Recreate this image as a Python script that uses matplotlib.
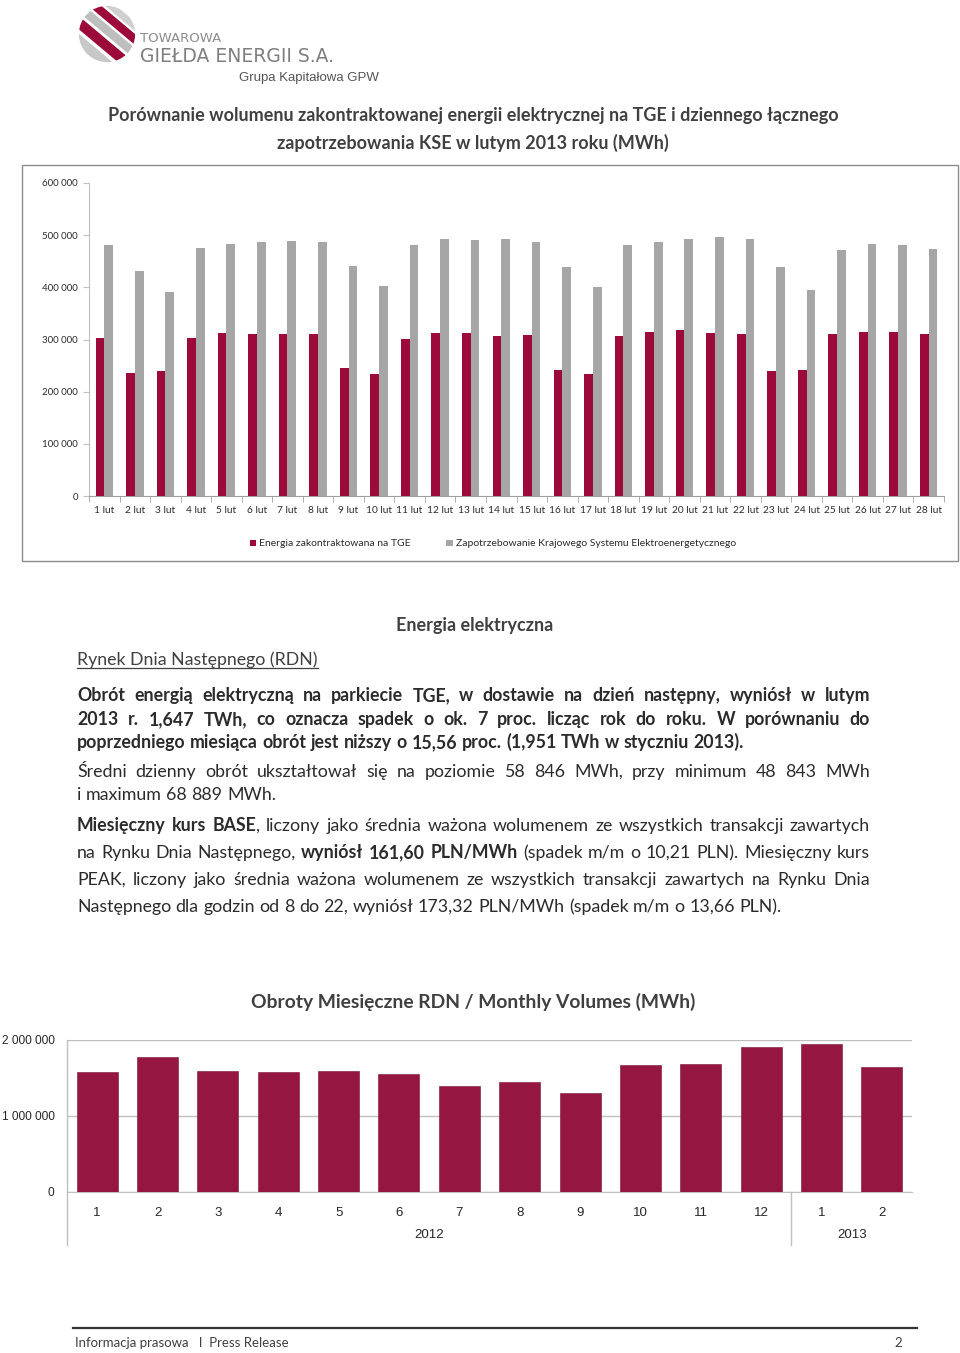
import numpy as np
import matplotlib.pyplot as plt
import matplotlib.transforms as mtransforms
from matplotlib.patches import Rectangle, Circle, Polygon
from matplotlib.lines import Line2D
from matplotlib.ticker import FuncFormatter

# =========================
# Dane
# =========================
days = [f"{d} lut" for d in range(1, 29)]
tge = [302000, 235000, 239000, 302000, 312000, 310000, 310000, 310000,
       246000, 233000, 301000, 312000, 312000, 306000, 308000, 241000,
       233000, 306000, 315000, 318000, 312000, 310000, 240000, 241000,
       310000, 315000, 315000, 310000]
kse = [482000, 431000, 392000, 476000, 484000, 486000, 489000, 487000,
       441000, 402000, 482000, 493000, 490000, 493000, 486000, 439000,
       400000, 482000, 487000, 492000, 497000, 492000, 439000, 395000,
       472000, 483000, 481000, 473000]
series_names = ["Energia zakontraktowana na TGE",
                "Zapotrzebowanie Krajowego Systemu Elektroenergetycznego"]

months = ["1", "2", "3", "4", "5", "6", "7", "8", "9", "10", "11", "12", "1", "2"]
volumes = [1575000, 1772000, 1597000, 1584000, 1597000, 1554000, 1396000,
           1444000, 1300000, 1676000, 1685000, 1904000, 1951000, 1647000]
years = ["2012", "2013"]
year_len = [12, 2]

RED = '#9C0A3A'
RED2 = '#951641'
GRAY = '#A6A6A6'
TXT = '#2B2B2B'
HEAD = '#404040'
BODY = ['Lato', 'DejaVu Sans']
ARIAL = ['Liberation Sans', 'DejaVu Sans']

W, H = 960, 1353
fig = plt.figure(figsize=(W / 100, H / 100), dpi=100)


def fx(x):
    return x / W


def fy(y):
    return 1 - y / H


def space_fmt(v, pos):
    return f"{int(v):,}".replace(',', ' ')


# =========================
# Logo
# =========================
axl = fig.add_axes([fx(78), fy(63), 58 / W, 58 / H])
axl.set_xlim(-1, 1)
axl.set_ylim(-1, 1)
axl.axis('off')
circ = Circle((0, 0), 0.97, transform=axl.transData)
ang = np.deg2rad(-40)
d = np.array([np.cos(ang), np.sin(ang)])
nrm = np.array([-d[1], d[0]])
bands = [(-1.0, -0.62, '#C8C8C8'), (-0.5, -0.15, RED), (-0.05, 0.25, '#BEBEBE'),
         (0.33, 0.62, RED), (0.7, 0.95, '#D0D0D0')]
for a, b, col in bands:
    pts = [a * nrm - 2 * d, b * nrm - 2 * d, b * nrm + 2 * d, a * nrm + 2 * d]
    p = Polygon(pts, closed=True, color=col, lw=0)
    axl.add_patch(p)
    p.set_clip_path(circ)

fig.text(fx(140), fy(42), "TOWAROWA", fontsize=9.5, color='#8C8C8C',
         family='DejaVu Sans', va='baseline')
fig.text(fx(140), fy(62), "GIEŁDA ENERGII S.A.", fontsize=13.5, color='#7F7F7F',
         family='DejaVu Sans', va='baseline')
fig.text(fx(239), fy(81), "Grupa Kapitałowa GPW", fontsize=9.5, color='#555555',
         family='Liberation Sans', va='baseline')

# =========================
# Tytuł wykresu 1
# =========================
fig.text(fx(473), fy(121), "Porównanie wolumenu zakontraktowanej energii elektrycznej na TGE i dziennego łącznego",
         ha='center', va='baseline', fontsize=13, weight='bold', color=HEAD, family=BODY)
fig.text(fx(473), fy(149), "zapotrzebowania KSE w lutym 2013 roku (MWh)",
         ha='center', va='baseline', fontsize=13, weight='bold', color=HEAD, family=BODY)

# ramka
fig.add_artist(Rectangle((fx(22), fy(561)), fx(958) - fx(22), (561 - 165) / H,
                         transform=fig.transFigure, fill=False, ec='#8C8C8C', lw=1))

# =========================
# Wykres 1
# =========================
ax1 = fig.add_axes([fx(89), fy(496), fx(944) - fx(89), (496 - 183) / H])
x = np.arange(len(days))
w = 0.285
ax1.bar(x - w / 2, tge, w, color=RED, label=series_names[0], zorder=3)
ax1.bar(x + w / 2, kse, w, color=GRAY, label=series_names[1], zorder=3)
ax1.set_xlim(-0.5, len(days) - 0.5)
ax1.set_ylim(0, 600000)
ax1.set_yticks(np.arange(0, 600001, 100000))
ax1.yaxis.set_major_formatter(FuncFormatter(space_fmt))
ax1.set_xticks(x)
ax1.set_xticklabels(days, family=BODY)
ax1.set_xticks(np.arange(-0.5, len(days), 1), minor=True)
ax1.tick_params(axis='x', which='major', length=0, pad=7, labelsize=7.3, labelcolor=TXT)
ax1.tick_params(axis='x', which='minor', length=4, color='#A0A0A0')
ax1.tick_params(axis='y', length=4, color='#BFBFBF', labelsize=7, labelcolor=TXT, pad=4)
for lab in ax1.get_yticklabels():
    lab.set_family(BODY)
for s in ['top', 'right']:
    ax1.spines[s].set_visible(False)
ax1.spines['left'].set_color('#BFBFBF')
ax1.spines['bottom'].set_color('#A0A0A0')
ax1.legend(loc='center', bbox_to_anchor=(fx(493), fy(544)), bbox_transform=fig.transFigure,
           ncol=2, frameon=False, prop={'family': BODY, 'size': 7.5},
           handlelength=0.6, handleheight=0.6, handletextpad=0.3, columnspacing=3.4,
           labelcolor=TXT)

# =========================
# Tekst
# =========================
renderer = fig.canvas.get_renderer()


def width_of(t):
    return t.get_window_extent(renderer).width


def parse(s):
    words = [[]]
    for i, seg in enumerate(s.split('**')):
        b = i % 2 == 1
        for j, p in enumerate(seg.split(' ')):
            if j > 0:
                words.append([])
            if p:
                words[-1].append((p, b))
    return [wd for wd in words if wd]


def draw_line(y, s, justify=True, x0=77, x1=870, size=12.8, color=TXT):
    words = parse(s)
    objs, widths = [], []
    for word in words:
        segs, tot = [], 0
        for piece, b in word:
            t = fig.text(0, fy(y), piece, fontsize=size, weight='bold' if b else 'normal',
                         family=BODY, color=color, va='baseline', ha='left')
            wd = width_of(t)
            segs.append((t, wd))
            tot += wd
        objs.append(segs)
        widths.append(tot)
    t1 = fig.text(0, 0, "a a", fontsize=size, family=BODY)
    t2 = fig.text(0, 0, "aa", fontsize=size, family=BODY)
    space = width_of(t1) - width_of(t2)
    t1.remove()
    t2.remove()
    gap = space
    if justify and len(words) > 1:
        gap = max((x1 - x0 - sum(widths)) / (len(words) - 1), space * 0.6)
    xx = x0
    for segs, tot in zip(objs, widths):
        xs = xx
        for t, wd in segs:
            t.set_x(fx(xs))
            xs += wd
        xx += tot + gap


fig.text(fx(396), fy(631), "Energia elektryczna", fontsize=13, weight='bold',
         color=HEAD, family=BODY, va='baseline')
rdn = fig.text(fx(77), fy(665), "Rynek Dnia Następnego (RDN)", fontsize=12.8,
               color=HEAD, family=BODY, va='baseline')
rw = width_of(rdn)
fig.add_artist(Line2D([fx(77), fx(77 + rw)], [fy(668), fy(668)], color=HEAD, lw=0.9))

draw_line(701, "**Obrót energią elektryczną na parkiecie TGE, w dostawie na dzień następny, wyniósł w lutym**")
draw_line(725, "**2013 r. 1,647 TWh, co oznacza spadek o ok. 7 proc. licząc rok do roku. W porównaniu do**")
draw_line(748, "**poprzedniego miesiąca obrót jest niższy o 15,56 proc. (1,951 TWh w styczniu 2013).**", justify=False)
draw_line(777, "Średni dzienny obrót ukształtował się na poziomie 58 846 MWh, przy minimum 48 843 MWh")
draw_line(800, "i maximum 68 889 MWh.", justify=False)
draw_line(831, "**Miesięczny kurs BASE**, liczony jako średnia ważona wolumenem ze wszystkich transakcji zawartych")
draw_line(858, "na Rynku Dnia Następnego, **wyniósł 161,60 PLN/MWh** (spadek m/m o 10,21 PLN). Miesięczny kurs")
draw_line(885, "PEAK, liczony jako średnia ważona wolumenem ze wszystkich transakcji zawartych na Rynku Dnia")
draw_line(912, "Następnego dla godzin od 8 do 22, wyniósł 173,32 PLN/MWh (spadek m/m o 13,66 PLN).", justify=False)

# =========================
# Wykres 2
# =========================
fig.text(fx(473), fy(1008), "Obroty Miesięczne RDN / Monthly Volumes (MWh)", ha='center',
         va='baseline', fontsize=13.9, weight='bold', color=HEAD, family=BODY)

ax2 = fig.add_axes([fx(67), fy(1192), fx(912) - fx(67), (1192 - 1040) / H])
xm = np.arange(len(months))
ax2.bar(xm, volumes, 0.68, color=RED2, ec='#7A1030', lw=0.4, zorder=3)
ax2.set_xlim(-0.5, len(months) - 0.5)
ax2.set_ylim(0, 2000000)
ax2.set_yticks([0, 1000000, 2000000])
ax2.yaxis.set_major_formatter(FuncFormatter(space_fmt))
ax2.set_xticks(xm)
ax2.set_xticklabels(months)
ax2.grid(axis='y', color='#BFBFBF', lw=1)
ax2.set_axisbelow(True)
ax2.tick_params(axis='x', length=0, labelsize=9.5, labelcolor='#262626', pad=11)
ax2.tick_params(axis='y', length=0, labelsize=8.6, labelcolor='#262626', pad=9)
for lab in ax2.get_xticklabels() + ax2.get_yticklabels():
    lab.set_family(ARIAL)
for s in ['top', 'right', 'left']:
    ax2.spines[s].set_visible(False)
ax2.spines['bottom'].set_color('#BFBFBF')

blend = mtransforms.blended_transform_factory(ax2.transData, ax2.transAxes)
low = -(1245 - 1192) / (1192 - 1040)
ax2.plot([-0.5, -0.5], [low, 1], color='#BFBFBF', lw=1, transform=blend, clip_on=False)
start = 0
for yr, n in zip(years, year_len):
    ax2.text(start + (n - 1) / 2, -(1235 - 1192) / (1192 - 1040), yr, transform=blend,
             ha='center', va='center', fontsize=9.5, color='#262626', family=ARIAL)
    start += n
    if start < len(months):
        ax2.plot([start - 0.5, start - 0.5], [low, 0], color='#BFBFBF', lw=1,
                 transform=blend, clip_on=False)

# =========================
# Stopka
# =========================
fig.add_artist(Line2D([fx(73), fx(917)], [fy(1328), fy(1328)], color='#333333', lw=1.6))
fig.text(fx(75), fy(1347), "Informacja prasowa   I  Press Release", fontsize=9.5,
         color=HEAD, family=BODY, va='baseline')
fig.text(fx(902), fy(1347), "2", fontsize=9.5, color=HEAD, family=BODY, va='baseline', ha='right')

fig.savefig("out.png", dpi=100)
